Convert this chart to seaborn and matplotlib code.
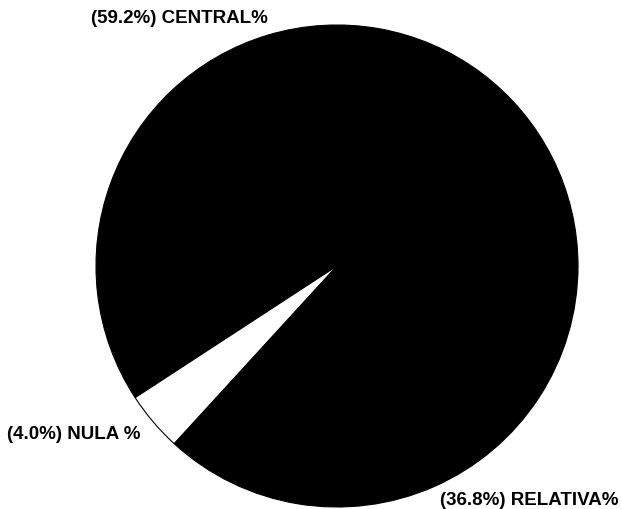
import matplotlib
matplotlib.use("Agg")
import matplotlib.pyplot as plt
import seaborn as sns

# data
categories = ['CENTRAL%', 'NULA %', 'RELATIVA%']
shares = [59.2, 4.0, 36.8]
colors = ['black', 'white', 'black']

sns.set_style("white")
plt.rcParams['font.family'] = ['Liberation Sans', 'DejaVu Sans']

labels = ["({:.1f}%) {}".format(v, c) for v, c in zip(shares, categories)]

fig = plt.figure(figsize=(6.22, 5.10), dpi=100)
ax = fig.add_axes([0, 0, 1, 1])

wedges, texts = ax.pie(shares, labels=labels, colors=colors, startangle=0,
                       counterclock=True,
                       wedgeprops={'edgecolor': 'black', 'linewidth': 0.8},
                       textprops={'fontsize': 13.5, 'fontweight': 'bold',
                                  'color': 'black'})

# label placement as in the reference
label_pos = [(-0.286, 1.033, 'right'), (-0.817, -0.693, 'right'), (0.427, -0.967, 'left')]
for t, (x, y, ha) in zip(texts, label_pos):
    t.set_position((x, y))
    t.set_ha(ha)
    t.set_va('center')

# pie centre at (337, 267) px, radius 241 px
ax.set_xlim(-337 / 241, 285 / 241)
ax.set_ylim(-243 / 241, 267 / 241)
ax.set_aspect('auto')
ax.axis('off')

fig.savefig('out.png', dpi=100)
